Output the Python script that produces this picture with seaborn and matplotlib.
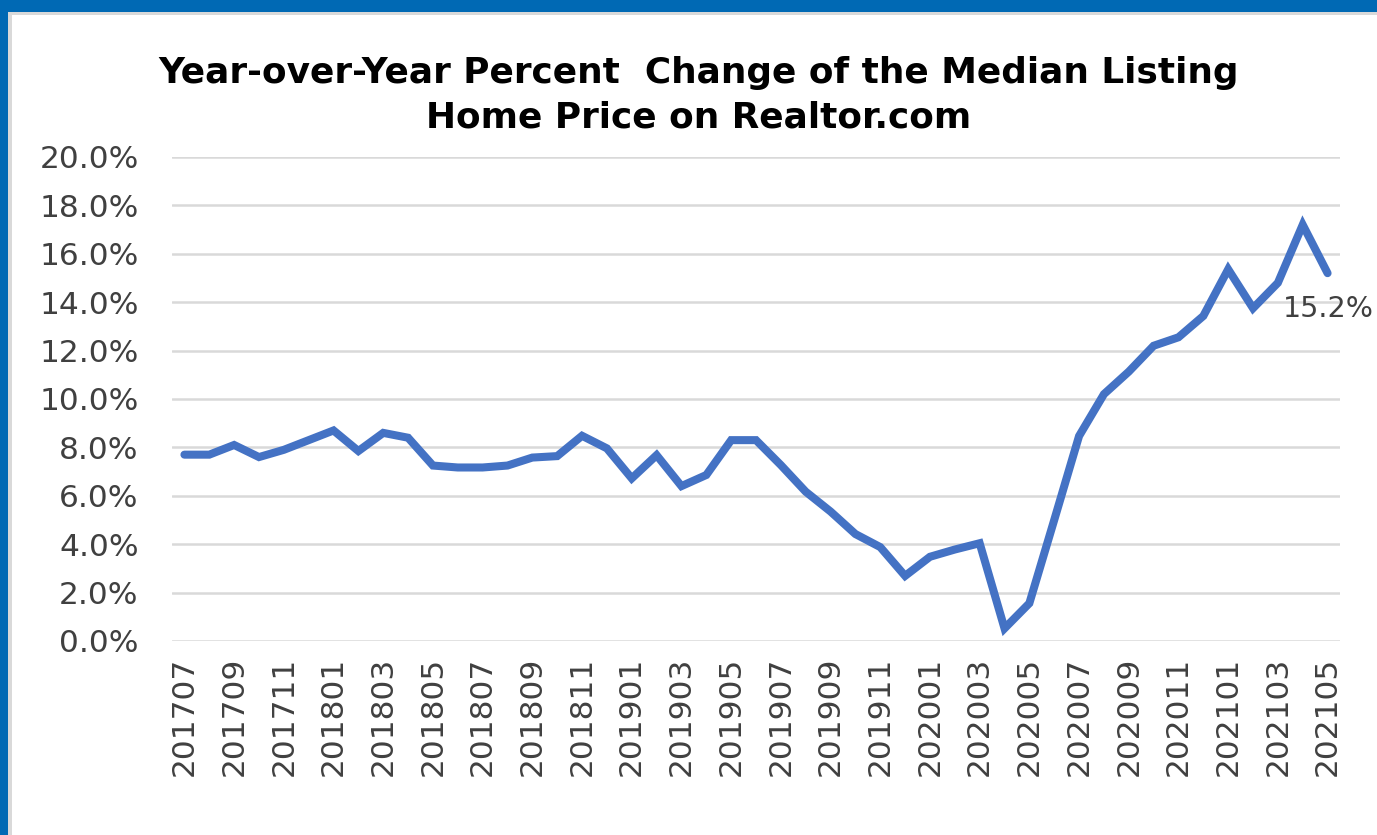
import numpy as np
import pandas as pd
import matplotlib
matplotlib.use("Agg")
import matplotlib.pyplot as plt
from matplotlib.patches import Rectangle
import seaborn as sns

months = [
    "201707", "201708", "201709", "201710", "201711", "201712",
    "201801", "201802", "201803", "201804", "201805", "201806",
    "201807", "201808", "201809", "201810", "201811", "201812",
    "201901", "201902", "201903", "201904", "201905", "201906",
    "201907", "201908", "201909", "201910", "201911", "201912",
    "202001", "202002", "202003", "202004", "202005", "202006",
    "202007", "202008", "202009", "202010", "202011", "202012",
    "202101", "202102", "202103", "202104", "202105",
]
yoy_change = [
    7.7, 7.7, 8.1, 7.6, 7.9, 8.3,
    8.7, 7.85, 8.6, 8.4, 7.25, 7.17,
    7.17, 7.25, 7.58, 7.64, 8.48, 7.96,
    6.72, 7.68, 6.4, 6.86, 8.3, 8.3,
    7.27, 6.17, 5.35, 4.42, 3.88, 2.69,
    3.48, 3.78, 4.04, 0.52, 1.56, 5.0,
    8.47, 10.2, 11.13, 12.2, 12.55, 13.43,
    15.36, 13.75, 14.8, 17.2, 15.2,
]
title_text = "Year-over-Year Percent  Change of the Median Listing\nHome Price on Realtor.com"
last_label = "15.2%"

df = pd.DataFrame({"idx": np.arange(len(months)), "month": months, "value": yoy_change})

sns.set_theme(style="white")
plt.rcParams["font.family"] = ["DejaVu Sans"]

W, H = 1377, 835
fig = plt.figure(figsize=(W / 100, H / 100), dpi=100, facecolor="#0069b4")
# white panel with light gray inner edge
fig.patches.append(Rectangle((8 / W, 0), 1, (H - 12) / H, transform=fig.transFigure,
                             facecolor="#d9d9d9", edgecolor="none", zorder=-20))
fig.patches.append(Rectangle((12 / W, 0), 1, (H - 15) / H, transform=fig.transFigure,
                             facecolor="white", edgecolor="none", zorder=-10))

ax = fig.add_axes([172 / W, 1 - 641 / H, (1340 - 172) / W, (641 - 157) / H])
ax.set_zorder(5)
ax.set_facecolor("none")

sns.lineplot(data=df, x="idx", y="value", ax=ax, color="#4472c4", linewidth=5.8,
             solid_capstyle="round", solid_joinstyle="miter", zorder=3)

ax.set_xlim(-0.5, len(months) - 0.5)
ax.set_ylim(0, 20)
ax.set_yticks(np.arange(0, 20.01, 2))
ax.set_yticklabels([f"{v:.1f}%" for v in np.arange(0, 20.01, 2)])
ax.set_xticks(df["idx"][::2])
ax.set_xticklabels(df["month"][::2], rotation=90, va="top", ha="center")
ax.yaxis.grid(True, color="#d9d9d9", linewidth=1.8)
ax.xaxis.grid(False)
for s in ax.spines.values():
    s.set_visible(False)
ax.tick_params(axis="both", length=0, labelsize=22.5, colors="#404040")
ax.tick_params(axis="y", pad=24)
ax.tick_params(axis="x", pad=11)
ax.set_xlabel("")
ax.set_ylabel("")

ax.annotate(last_label, xy=(df["idx"].iloc[-1], yoy_change[-1]), xytext=(1, -36),
            textcoords="offset pixels", ha="center", va="center",
            fontsize=20.5, color="#404040", annotation_clip=False)

fig.text(699 / W, 1 - 95 / H, title_text, ha="center", va="center",
         fontsize=25.8, fontweight="bold", color="black", linespacing=1.4)

fig.savefig("out.png", dpi=100, facecolor=fig.get_facecolor())
